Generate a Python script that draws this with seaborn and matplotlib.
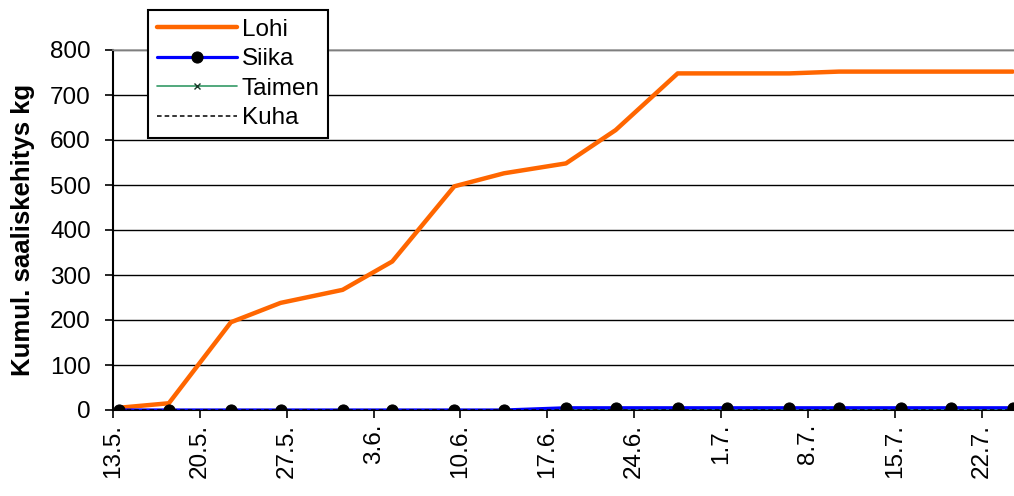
import matplotlib
matplotlib.use("Agg")
import matplotlib.pyplot as plt
import matplotlib.dates as mdates
import matplotlib.transforms as mtransforms
import seaborn as sns
import pandas as pd
import numpy as np

# ---- data ----
dates = ["2004-05-13", "2004-05-17", "2004-05-22", "2004-05-26", "2004-05-31",
         "2004-06-04", "2004-06-09", "2004-06-13", "2004-06-18", "2004-06-22",
         "2004-06-27", "2004-07-01", "2004-07-06", "2004-07-10", "2004-07-15",
         "2004-07-19", "2004-07-24"]
lohi = [5, 15, 195, 238, 267, 330, 497, 526, 548, 622, 748, 748, 748, 752, 752, 752, 752]
siika = [0, 0, 0, 0, 0, 0, 0, 0, 5, 5, 5, 5, 5, 5, 5, 5, 5]
taimen = [0, 0, 0, 0, 0, 0, 0, 0, 0, 0, 0, 0, 0, 0, 0, 1, 1]
kuha = [0, 0, 0, 0, 0, 0, 0, 0, 0, 0, 0, 0, 0, 0, 0, 0, 0]
tick_dates = ["2004-05-13", "2004-05-20", "2004-05-27", "2004-06-03", "2004-06-10",
              "2004-06-17", "2004-06-24", "2004-07-01", "2004-07-08", "2004-07-15",
              "2004-07-22"]
tick_labels = ["13.5.", "20.5.", "27.5.", "3.6.", "10.6.", "17.6.", "24.6.",
               "1.7.", "8.7.", "15.7.", "22.7."]
y_ticks = [0, 100, 200, 300, 400, 500, 600, 700, 800]
ylabel = "Kumul. saaliskehitys kg"

sns.set_style("white")
plt.rcParams["font.family"] = ["Liberation Sans", "DejaVu Sans"]
plt.rcParams["text.color"] = "black"
plt.rcParams["axes.labelcolor"] = "black"
plt.rcParams["xtick.color"] = "black"
plt.rcParams["ytick.color"] = "black"

fig = plt.figure(figsize=(10.14, 4.96), dpi=100)
ax = fig.add_axes([113 / 1014, 86 / 496, 1 - 113 / 1014, 360 / 496])

# Excel date axis: points sit in the middle of each day slot
x = mdates.date2num(pd.to_datetime(dates)) + 0.5
df = pd.DataFrame({"x": x, "Lohi": lohi, "Siika": siika, "Taimen": taimen, "Kuha": kuha})

sns.lineplot(data=df, x="x", y="Lohi", ax=ax, color="#FF6600", lw=3.2,
             solid_capstyle="round", label="Lohi", zorder=4)
sns.lineplot(data=df, x="x", y="Siika", ax=ax, color="#0000FF", lw=2.3,
             marker="o", markersize=8, markerfacecolor="black",
             markeredgecolor="black", label="Siika", zorder=5)
sns.lineplot(data=df, x="x", y="Taimen", ax=ax, color="#339966", lw=1.2,
             marker="x", markersize=4.5, markeredgecolor="#1a3a2a",
             markeredgewidth=1.0, label="Taimen", zorder=3)
sns.lineplot(data=df, x="x", y="Kuha", ax=ax, color="black", lw=1.1,
             linestyle=(0, (3, 2)), label="Kuha", zorder=6)

t0 = mdates.date2num(pd.to_datetime(tick_dates))
ax.set_xlim(t0[0] + 0.1, t0[0] + 0.1 + 72.5)
ax.set_ylim(0, 800)
ax.set_xticks(t0)
ax.set_xticklabels(tick_labels, rotation=90, fontsize=17.5, va="top")
ax.set_yticks(y_ticks)
ax.set_yticklabels([str(v) for v in y_ticks], fontsize=17.5)
offset = mtransforms.ScaledTranslation(5 / 100, 0, fig.dpi_scale_trans)
for lab in ax.get_xticklabels():
    lab.set_transform(lab.get_transform() + offset)

ax.tick_params(axis="both", direction="out", length=6, width=1.2, color="black",
               bottom=True, left=True)
ax.tick_params(axis="y", pad=10)
ax.tick_params(axis="x", pad=4)
ax.set_xlabel("")
ax.set_ylabel(ylabel, fontsize=18.5, fontweight="bold")
ax.yaxis.set_label_coords(-78 / 901, 0.5)

ax.grid(axis="y", color="black", lw=1.0)
ax.grid(axis="x", visible=False)
ax.set_axisbelow(True)
for s in ["left", "bottom"]:
    ax.spines[s].set_color("black")
    ax.spines[s].set_linewidth(1.5)
ax.spines["top"].set_color("#999999")
ax.spines["top"].set_linewidth(1.2)
ax.spines["right"].set_visible(False)

leg = ax.legend(loc="upper left", bbox_to_anchor=(148 / 1014, 1 - 10 / 496),
                bbox_transform=fig.transFigure, fontsize=17.5, frameon=True,
                fancybox=False, framealpha=1, edgecolor="black",
                handlelength=3.3, handletextpad=0.2, labelspacing=0.31,
                borderpad=0.35, borderaxespad=0)
leg.get_frame().set_linewidth(1.5)
leg.set_zorder(10)

fig.savefig("out.png", dpi=100)
